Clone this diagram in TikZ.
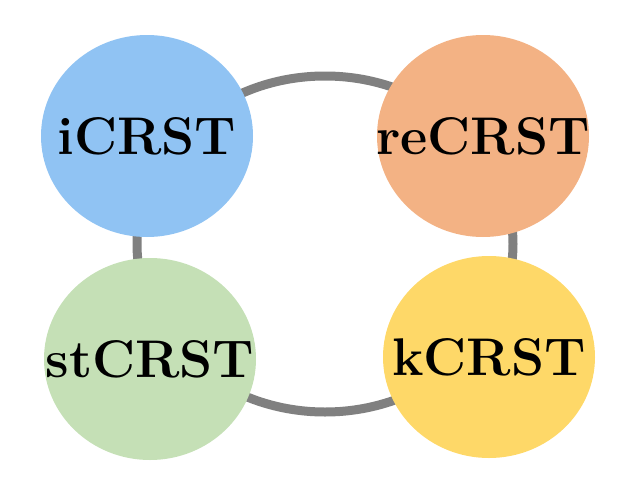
\documentclass[tikz,border=0pt]{standalone}
\usetikzlibrary{shapes.geometric}
\definecolor{cblue}{RGB}{144,195,243}
\definecolor{corange}{RGB}{243,178,132}
\definecolor{cgreen}{RGB}{197,224,182}
\definecolor{cyellow}{RGB}{254,216,104}
\definecolor{cring}{RGB}{128,128,128}
\newcommand{\ztext}[1]{\makebox[0pt]{#1}}
\begin{document}
\begin{tikzpicture}[x=1pt,y=-1pt,
  bubble/.style={ellipse,inner sep=0pt,minimum width=212pt,minimum height=202pt,
    font=\fontsize{53}{60}\selectfont\bfseries},
  ring/.style={draw=cring,line width=9pt}]
\useasboundingbox (0,0) rectangle (640,480);
\coordinate (rc) at (325,244);
\draw[ring] (rc) ellipse [x radius=188pt, y radius=168pt];
\node[bubble,fill=cblue]   (i)  at (147,136) {\ztext{iCRST}};
\node[bubble,fill=corange] (re) at (483,136) {\ztext{reCRST}};
\node[bubble,fill=cgreen]  (st) at (150,359) {\ztext{stCRST}};
\node[bubble,fill=cyellow] (k)  at (489,357) {\ztext{kCRST}};
\end{tikzpicture}
\end{document}
